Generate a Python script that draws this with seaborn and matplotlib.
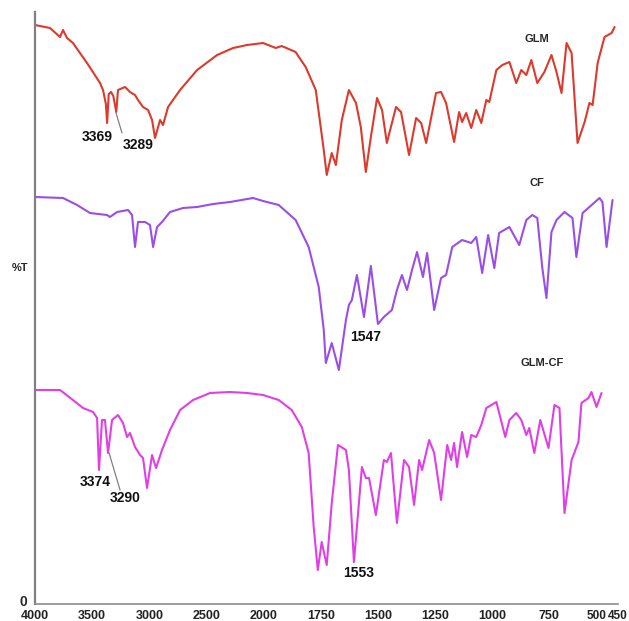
import numpy as np
import pandas as pd
import matplotlib
matplotlib.use("Agg")
import matplotlib.pyplot as plt
from matplotlib.transforms import ScaledTranslation
import seaborn as sns

# ---------------- data (wavenumber cm-1, %T in arbitrary offset units) ----------------
glm_wn = [4000, 3869, 3781, 3755, 3720, 3668, 3545, 3431, 3405, 3380, 3369, 3355, 3335, 3315,
          3289, 3274, 3212, 3169, 3125, 3099, 3055, 3011, 2976, 2950, 2906, 2880, 2836, 2731,
          2582, 2407, 2267, 2145, 2005, 1947, 1921, 1860, 1846, 1816, 1772, 1737, 1724, 1702,
          1684, 1658, 1627, 1596, 1575, 1553, 1531, 1504, 1482, 1461, 1421, 1399, 1364, 1333,
          1311, 1289, 1246, 1224, 1202, 1167, 1145, 1132, 1114, 1092, 1070, 1048, 1026, 1013,
          982, 956, 925, 895, 873, 851, 829, 803, 772, 741, 719, 697, 675, 653, 627, 596, 575,
          561, 539, 509, 478, 465]
glm_t = [579, 576, 567, 574, 566, 561, 541, 521, 514, 500, 481, 510, 512, 508,
         492, 514, 517, 512, 509, 504, 497, 494, 484, 466, 484, 479, 497, 514,
         534, 549, 556, 559, 561, 556, 558, 552, 547, 537, 514, 454, 429, 451,
         439, 484, 514, 501, 477, 432, 467, 506, 494, 461, 497, 492, 449, 486,
         481, 461, 511, 512, 501, 462, 492, 482, 491, 476, 494, 481, 504, 502,
         534, 539, 542, 521, 534, 529, 544, 521, 532, 549, 532, 511, 561, 551, 461, 482, 501,
         499, 541, 567, 571, 577]

cf_wn = [4000, 3755, 3632, 3519, 3370, 3344, 3282, 3186, 3151, 3125, 3099, 3037, 2994, 2967,
         2932, 2889, 2819, 2705, 2582, 2442, 2294, 2092, 2005, 1934, 1860, 1803, 1759, 1737,
         1728, 1702, 1671, 1640, 1627, 1614, 1592, 1561, 1531, 1500, 1474, 1439, 1417, 1395,
         1373, 1351, 1329, 1303, 1285, 1254, 1224, 1202, 1175, 1132, 1092, 1070, 1044, 1018,
         991, 970, 925, 882, 851, 825, 803, 781, 763, 741, 719, 684, 649, 632, 605, 575, 531,
         518, 500, 474]
cf_t = [407, 406, 399, 391, 389, 387, 392, 394, 389, 357, 382, 382, 379, 357,
        377, 382, 392, 396, 397, 400, 402, 406, 403, 399, 384, 357, 317, 274,
        241, 261, 234, 284, 299, 304, 329, 287, 338, 280, 287, 294, 314, 329,
        314, 334, 352, 327, 351, 294, 326, 329, 357, 364, 361, 367, 331, 369,
        336, 371, 377, 359, 384, 389, 386, 336, 306, 372, 384, 392, 386, 347, 391, 397, 406,
        402, 357, 404]

glmcf_wn = [4000, 3781, 3668, 3580, 3492, 3457, 3440, 3414, 3388, 3361, 3326, 3274, 3230, 3195,
            3169, 3125, 3081, 3055, 3020, 2976, 2941, 2889, 2819, 2731, 2617, 2469, 2294, 2145,
            2005, 1934, 1877, 1833, 1803, 1781, 1763, 1746, 1724, 1702, 1675, 1640, 1627, 1605,
            1570, 1553, 1539, 1509, 1474, 1461, 1443, 1417, 1386, 1364, 1342, 1320, 1307, 1276,
            1254, 1224, 1197, 1180, 1167, 1154, 1132, 1110, 1092, 1070, 1048, 1026, 982, 943,
            925, 895, 873, 851, 838, 816, 790, 754, 728, 706, 684, 653, 623, 610, 579, 566, 544,
            522]
glmcf_t = [214, 214, 204, 196, 192, 186, 134, 184, 184, 151, 184, 189, 181, 167,
           171, 157, 149, 146, 116, 149, 136, 154, 174, 194, 204, 211, 212, 211,
           209, 204, 194, 177, 151, 77, 34, 62, 39, 101, 159, 154, 134, 42,
           137, 126, 126, 89, 144, 142, 151, 81, 144, 137, 99, 144, 134, 164,
           151, 104, 159, 144, 161, 137, 172, 147, 169, 167, 179, 196, 202, 167,
           184, 191, 184, 169, 176, 151, 184, 156, 199, 196, 91, 144, 162, 201, 206, 212, 197,
           211]

series_names = ["GLM", "CF", "GLM-CF"]
series_colors = ["#dc3a2c", "#9a4ee6", "#e03fe6"]

x_ticks = [4000, 3500, 3000, 2500, 2000, 1750, 1500, 1250, 1000, 750, 500, 450]

peak_labels = ["3369", "3289", "1547", "3374", "3290", "1553"]
peak_label_wn = [3458, 3099, 1553, 3475, 3212, 1583]
peak_label_t = [467, 459, 267, 122, 106, 31]

# ---------------- figure ----------------
sns.set_style("white")
plt.rcParams["font.family"] = ["Liberation Sans", "DejaVu Sans"]

fig = plt.figure(figsize=(6.29, 6.21), dpi=100)
ax = fig.add_axes([35 / 629, 17 / 621, 583 / 629, 592 / 621])


def fwd(x):
    x = np.asarray(x, dtype=float)
    return np.where(x <= 2000, x, 2000 + (x - 2000) / 2.0)


def inv(y):
    y = np.asarray(y, dtype=float)
    return np.where(y <= 2000, y, 2000 + (y - 2000) * 2.0)


ax.set_xscale("function", functions=(fwd, inv))

for name, wn, t, col in zip(series_names, [glm_wn, cf_wn, glmcf_wn],
                            [glm_t, cf_t, glmcf_t], series_colors):
    df = pd.DataFrame({"wn": wn, "T": t})
    sns.lineplot(data=df, x="wn", y="T", ax=ax, color=col, lw=1.5,
                 estimator=None, sort=False, solid_joinstyle="round",
                 solid_capstyle="round")

ax.set_xlim(4000, 450)
ax.set_ylim(0, 592)

ax.set_xticks(x_ticks)
ax.set_xticklabels([str(v) for v in x_ticks], fontsize=9, fontweight="bold",
                   color="#222222")
ax.set_yticks([0])
ax.set_yticklabels(["0"], fontsize=10, fontweight="bold")
ax.set_yticks([236, 452, 472, 492, 512, 532, 552, 572, 592], minor=True)
ax.tick_params(axis="x", direction="inout", length=4, width=0.8, color="#999999", pad=2)
ax.tick_params(axis="y", which="both", direction="out", length=3, width=0.8,
               color="#999999", pad=1)
ax.set_xlabel("")
ax.set_ylabel("")

# nudge crowded tick labels like the reference
xt = ax.get_xticklabels()
xt[-2].set_fontsize(8.5)
xt[-1].set_fontsize(8.5)
xt[-2].set_transform(xt[-2].get_transform() + ScaledTranslation(-0.105, 0, fig.dpi_scale_trans))
xt[-1].set_transform(xt[-1].get_transform() + ScaledTranslation(-0.005, 0, fig.dpi_scale_trans))
yt = ax.get_yticklabels()
yt[0].set_transform(yt[0].get_transform() + ScaledTranslation(-0.02, 0.04, fig.dpi_scale_trans))

for side in ["top", "right"]:
    ax.spines[side].set_visible(False)
ax.spines["left"].set_color("#808080")
ax.spines["left"].set_linewidth(1.6)
ax.spines["bottom"].set_color("#8c8c8c")
ax.spines["bottom"].set_linewidth(1.2)

ax.text(-0.026, 0.568, "%T", transform=ax.transAxes, ha="center", va="center",
        fontsize=8, fontweight="bold")

# series names
ax.text(807, 565, "GLM", fontsize=8, fontweight="bold", ha="center", va="center")
ax.text(803, 421, "CF", fontsize=8, fontweight="bold", ha="center", va="center")
ax.text(781, 241, "GLM-CF", fontsize=8, fontweight="bold", ha="center", va="center")

# peak labels
for lab, w, t in zip(peak_labels, peak_label_wn, peak_label_t):
    ax.text(w, t, lab, fontsize=10, fontweight="bold", ha="center", va="center",
            color="#111111")

# connector lines
ax.plot([3291, 3239], [491, 471], color="#808080", lw=0.9)
ax.plot([3352, 3256], [151, 114], color="#808080", lw=0.9)

fig.savefig("out.png", dpi=100)
